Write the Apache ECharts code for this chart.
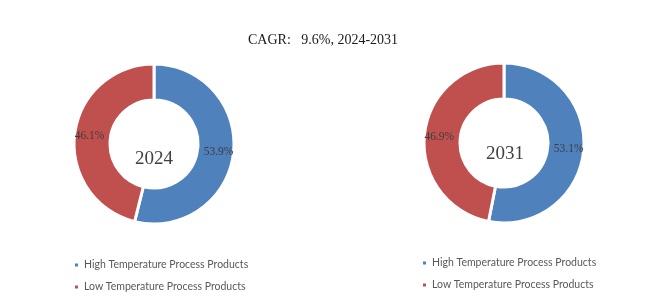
<!DOCTYPE html>
<html>
<head>
<meta charset="utf-8">
<script src="https://cdn.jsdelivr.net/npm/echarts@6/dist/echarts.min.js"></script>
<style>html,body{margin:0;padding:0;background:#fff}#c{width:655px;height:302px}</style>
</head>
<body>
<div id="c"></div>
<script>
var categories = ['High Temperature Process Products', 'Low Temperature Process Products'];
var years = ['2024', '2031'];
var share2024 = [53.9, 46.1];
var share2031 = [53.1, 46.9];
var titleText = 'CAGR:   9.6%, 2024-2031';
var colors = ['#4F81BD', '#C0504D'];

function mk(vals) {
  return categories.map(function (c, i) { return { name: c, value: vals[i] }; });
}
function pie(name, center, vals) {
  return {
    type: 'pie', name: name, center: center, radius: [44, 80],
    startAngle: 90, clockwise: true, avoidLabelOverlap: false,
    itemStyle: { borderColor: '#fff', borderWidth: 3 },
    label: {
      show: true, position: 'inside', color: '#3d3d3d',
      fontFamily: 'Liberation Serif', fontSize: 11.5,
      formatter: function (p) { return p.value.toFixed(1) + '%'; }
    },
    labelLine: { show: false }, emphasis: { scale: false },
    data: mk(vals)
  };
}
function legend(left, top) {
  return {
    orient: 'vertical', left: left, top: top, data: categories,
    icon: 'rect', itemWidth: 5, itemHeight: 5, itemGap: 8,
    textStyle: { color: '#595959', fontFamily: 'Lato', fontSize: 10.5, lineHeight: 14 }
  };
}
var chart = echarts.init(document.getElementById('c'));
chart.setOption({
  color: colors, animation: false,
  title: {
    text: titleText, left: 243, top: 28,
    textStyle: { fontFamily: 'Liberation Serif', fontSize: 14, fontWeight: 'normal', color: '#1a1a1a' }
  },
  legend: [legend(68, 253), legend(416, 251)],
  series: [pie(years[0], [154, 144], share2024), pie(years[1], [504, 143], share2031)],
  graphic: [
    { type: 'text', x: 154, y: 159, style: { text: years[0], fontFamily: 'Liberation Serif', fontSize: 19, fill: '#404040', textAlign: 'center', textVerticalAlign: 'middle' } },
    { type: 'text', x: 505, y: 154, style: { text: years[1], fontFamily: 'Liberation Serif', fontSize: 19, fill: '#404040', textAlign: 'center', textVerticalAlign: 'middle' } }
  ]
});
</script>
</body>
</html>
